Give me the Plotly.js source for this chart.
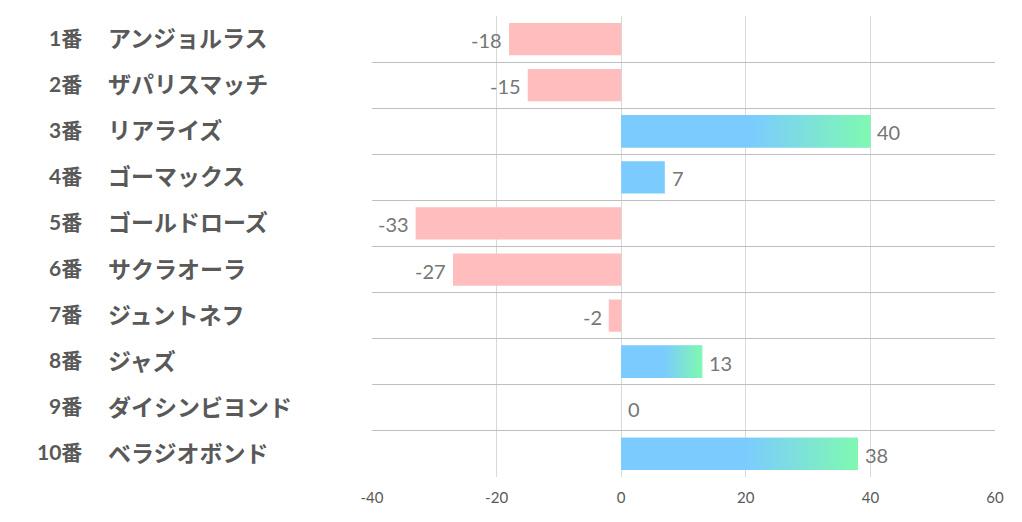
<!DOCTYPE html>
<html>
<head>
<meta charset="utf-8">
<script src="https://cdn.plot.ly/plotly-3.0.1.min.js"></script>
<style>
  html, body { margin: 0; padding: 0; background: #fff; }
  #chart { width: 1022px; height: 522px; }
</style>
</head>
<body>
<div id="chart"></div>
<script>
// 馬番と馬名
const umaban = ['1番', '2番', '3番', '4番', '5番', '6番', '7番', '8番', '9番', '10番'];
const bamei = ['アンジョルラス', 'ザパリスマッチ', 'リアライズ', 'ゴーマックス', 'ゴールドローズ',
               'サクラオーラ', 'ジュントネフ', 'ジャズ', 'ダイシンビヨンド', 'ベラジオボンド'];
// 指数
const scores = [-18, -15, 40, 7, -33, -27, -2, 13, 0, 38];
const xTicks = [-40, -20, 0, 20, 40, 60];

const rows = scores.map((_, i) => i);
const barW = 0.7;
const pink = '#ffbdbe';
const blue = '#7bcbff';
const green = '#7ff9b1';

// 棒本体
const bars = {
  type: 'bar',
  orientation: 'h',
  x: scores,
  y: rows,
  width: barW,
  marker: { color: scores.map(v => v < 0 ? pink : blue), line: { width: 0 } },
  hoverinfo: 'skip',
  showlegend: false
};

// 10以上の棒はグラデーションで上書き
const gradTraces = [];
scores.forEach((v, i) => {
  if (v < 10) return;
  const h = barW / 2;
  gradTraces.push({
    type: 'scatter',
    mode: 'lines',
    x: [0, v, v, 0, 0],
    y: [i - h, i - h, i + h, i + h, i - h],
    fill: 'toself',
    line: { width: 0 },
    fillgradient: {
      type: 'horizontal',
      start: 0,
      stop: v,
      colorscale: [[0, blue], [0.52, blue], [1, green]]
    },
    hoverinfo: 'skip',
    showlegend: false
  });
});

const annotations = [];

// 数値ラベル
scores.forEach((v, i) => {
  annotations.push({
    xref: 'x', yref: 'y', x: v, y: i,
    xanchor: v < 0 ? 'right' : 'left', yanchor: 'middle',
    xshift: v < 0 ? -5 : 5, yshift: -1,
    showarrow: false,
    text: String(v),
    font: { family: 'Lato, "Open Sans", sans-serif', size: 20, color: '#767676' }
  });
});

// 左側の馬番・馬名
rows.forEach(i => {
  annotations.push({
    xref: 'paper', yref: 'y', x: -0.4615, y: i,
    xanchor: 'right', yanchor: 'middle', showarrow: false, yshift: 2,
    text: '<b>' + umaban[i] + '</b>',
    font: { family: 'Lato, "Noto Sans CJK JP", sans-serif', size: 21, color: '#595959' }
  });
  annotations.push({
    xref: 'paper', yref: 'y', x: -0.4275, y: i,
    xanchor: 'left', yanchor: 'middle', showarrow: false, yshift: 2,
    text: '<b>' + bamei[i] + '</b>',
    font: { family: '"Noto Sans CJK JP", sans-serif', size: 23, color: '#595959' }
  });
});

const layout = {
  width: 1022,
  height: 522,
  margin: { l: 372, r: 27, t: 16, b: 45 },
  paper_bgcolor: '#ffffff',
  plot_bgcolor: '#ffffff',
  xaxis: {
    range: [-40, 60],
    tickvals: xTicks,
    ticktext: xTicks.map(String),
    tickfont: { family: 'Lato, "Open Sans", sans-serif', size: 15, color: '#595959' },
    ticklabelstandoff: 10,
    gridcolor: '#d9d9d9',
    zeroline: false,
    showline: false,
    ticks: '',
    fixedrange: true
  },
  yaxis: {
    range: [9.5, -0.5],
    tickvals: [-0.5, 0.5, 1.5, 2.5, 3.5, 4.5, 5.5, 6.5, 7.5, 8.5, 9.5],
    showticklabels: false,
    gridcolor: '#bfbfbf',
    zeroline: false,
    showline: false,
    ticks: '',
    fixedrange: true
  },
  annotations: annotations,
  showlegend: false
};

Plotly.newPlot('chart', [bars].concat(gradTraces), layout, { displayModeBar: false, staticPlot: true });
</script>
</body>
</html>
